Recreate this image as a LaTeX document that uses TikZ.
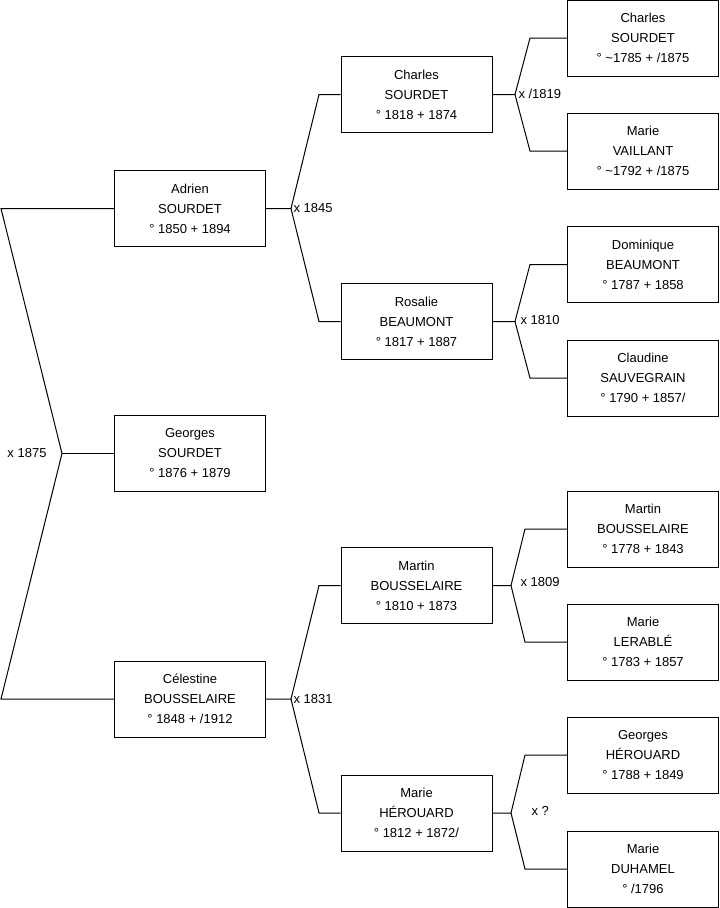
\documentclass[tikz,border=0pt]{standalone}
\usepackage{fontspec}
\setmainfont{Liberation Sans}
\setsansfont{Liberation Sans}

\tikzset{
  person/.style={draw, align=center, inner sep=0pt,
    minimum width=113.25pt, minimum height=57pt},
  union/.style={anchor=west, inner sep=0pt}
}

\begin{document}
\begin{tikzpicture}[x=0.75pt, y=-0.75pt, font=\sffamily\fontsize{9.75}{15}\selectfont, line width=0.75pt]
  \useasboundingbox (0,0) rectangle (719,908);
  % generation 1
  \node[person] (adrien)    at (190,208.5) {Adrien\\SOURDET\\° 1850 + 1894};
  \node[person] (georges)   at (190,453.5) {Georges\\SOURDET\\° 1876 + 1879};
  \node[person] (celestine) at (190,699)   {Célestine\\BOUSSELAIRE\\° 1848 + /1912};
  % generation 2
  \node[person] (charles)  at (416.5,94.5)  {Charles\\SOURDET\\° 1818 + 1874};
  \node[person] (rosalie)  at (416.5,321.5) {Rosalie\\BEAUMONT\\° 1817 + 1887};
  \node[person] (martin)   at (416.5,585.5) {Martin\\BOUSSELAIRE\\° 1810 + 1873};
  \node[person] (marieh)   at (416.5,813)   {Marie\\HÉROUARD\\° 1812 + 1872/};
  % generation 3
  \node[person] (charlesp)   at (643,38)    {Charles\\SOURDET\\° \textasciitilde1785 + /1875};
  \node[person] (mariev)     at (643,151)   {Marie\\VAILLANT\\° \textasciitilde1792 + /1875};
  \node[person] (dominique)  at (643,264.5) {Dominique\\BEAUMONT\\° 1787 + 1858};
  \node[person] (claudine)   at (643,378)   {Claudine\\SAUVEGRAIN\\° 1790 + 1857/};
  \node[person] (martinp)    at (643,529)   {Martin\\BOUSSELAIRE\\° 1778 + 1843};
  \node[person] (mariel)     at (643,642)   {Marie\\LERABLÉ\\° 1783 + 1857};
  \node[person] (georgesh)   at (643,755)   {Georges\\HÉROUARD\\° 1788 + 1849};
  \node[person] (maried)     at (643,869)   {Marie\\DUHAMEL\\° /1796};

  % root fork
  \coordinate (r1) at (1,208.5);
  \coordinate (r2) at (1,699);
  \coordinate (m0) at (62,453.5);
  \draw (adrien.west) -- (r1) -- (m0) -- (r2) -- (celestine.west);
  \draw (m0) -- (georges.west);
  \node[union] (u1875) at (7,453.5) {x 1875};

  % Adrien's parents
  \coordinate (a0) at (291,208.5);
  \coordinate (a1) at (319,94.5);
  \coordinate (a2) at (319,321.5);
  \draw (adrien.east) -- (a0) -- (a1) -- (charles.west);
  \draw (a0) -- (a2) -- (rosalie.west);
  \node[union] (u1845) at (293,208.5) {x 1845};

  % Celestine's parents
  \coordinate (c0) at (291,699);
  \coordinate (c1) at (319,585.5);
  \coordinate (c2) at (319,813);
  \draw (celestine.east) -- (c0) -- (c1) -- (martin.west);
  \draw (c0) -- (c2) -- (marieh.west);
  \node[union] (u1831) at (293,699) {x 1831};

  % Charles's parents
  \coordinate (b0) at (515,94.5);
  \coordinate (b1) at (530,38);
  \coordinate (b2) at (530,151);
  \draw (charles.east) -- (b0) -- (b1) -- (charlesp.west);
  \draw (b0) -- (b2) -- (mariev.west);
  \node[union] (u1819) at (518,93.5) {x /1819};

  % Rosalie's parents
  \coordinate (d0) at (515,321.5);
  \coordinate (d1) at (530,264.5);
  \coordinate (d2) at (530,378);
  \draw (rosalie.east) -- (d0) -- (d1) -- (dominique.west);
  \draw (d0) -- (d2) -- (claudine.west);
  \node[union] (u1810) at (520,320.5) {x 1810};

  % Martin's parents
  \coordinate (e0) at (511,585.5);
  \coordinate (e1) at (525,529);
  \coordinate (e2) at (525,642);
  \draw (martin.east) -- (e0) -- (e1) -- (martinp.west);
  \draw (e0) -- (e2) -- (mariel.west);
  \node[union] (u1809) at (520,582) {x 1809};

  % Marie's parents
  \coordinate (g0) at (511,813);
  \coordinate (g1) at (525,755);
  \coordinate (g2) at (525,869);
  \draw (marieh.east) -- (g0) -- (g1) -- (georgesh.west);
  \draw (g0) -- (g2) -- (maried.west);
  \node[union] (unknown) at (531,811) {x ?};
\end{tikzpicture}
\end{document}
